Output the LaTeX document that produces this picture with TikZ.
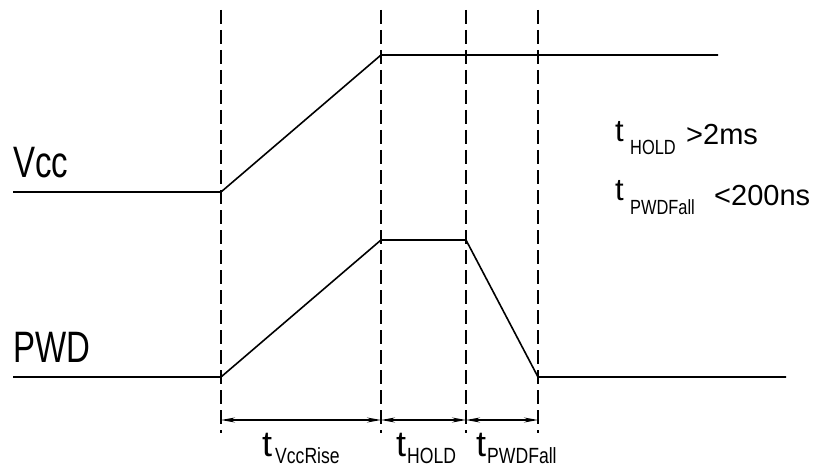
\documentclass[tikz,border=0pt]{standalone}
\usepackage{fontspec}
\setmainfont{Liberation Sans}
\newfontfamily\narrowf[FakeStretch=0.75]{Liberation Sans}
\newfontfamily\subf[FakeStretch=0.8]{Liberation Sans}
\usetikzlibrary{arrows.meta}
\tikzset{
  sig/.style={line width=1.6pt, line join=miter},
  guide/.style={line width=1.2pt, dash pattern=on 14pt off 6pt},
  dim/.style={line width=1.2pt, {Stealth[length=14pt,width=5pt]}-{Stealth[length=14pt,width=5pt]}},
  lbl/.style={inner sep=0pt, anchor=base west},
  signame/.style={lbl, font=\narrowf\fontsize{44}{44}\selectfont},
  tbig/.style={lbl, font=\fontsize{36}{36}\selectfont},
  subbig/.style={lbl, font=\subf\fontsize{22}{22}\selectfont},
  tsmall/.style={lbl, font=\fontsize{31}{31}\selectfont},
  subsmall/.style={lbl, font=\subf\fontsize{20.5}{20.5}\selectfont},
  val/.style={lbl, font=\fontsize{29}{29}\selectfont}
}
\begin{document}
\begin{tikzpicture}[x=1pt,y=-1pt]
\useasboundingbox (0,0) rectangle (819,468);
% waveform points
\coordinate (v0) at (13,192);
\coordinate (v1) at (221,192);
\coordinate (v2) at (381,55);
\coordinate (v3) at (718,55);
\coordinate (p0) at (13,377);
\coordinate (p1) at (221,377);
\coordinate (p2) at (381,240);
\coordinate (p3) at (466,240);
\coordinate (p4) at (538,377);
\coordinate (p5) at (786,377);
% guide lines
\foreach \n/\x in {1/221,2/381,3/466,4/538}{
  \coordinate (g\n t) at (\x,10);
  \coordinate (g\n b) at (\x,433);
  \coordinate (a\n) at (\x,420);
  \draw[guide] (g\n t) -- (g\n b);
}
% signals
\draw[sig] (v0) -- (v1) -- (v2) -- (v3);
\draw[sig] (p0) -- (p1) -- (p2) -- (p3) -- (p4) -- (p5);
% dimension arrows
\draw[dim] (a1) -- (a2);
\draw[dim] (a2) -- (a3);
\draw[dim] (a3) -- (a4);
% signal names
\node[signame] (vcc) at (13,177) {Vcc};
\node[signame] (pwd) at (13,362) {PWD};
% interval labels
\node[tbig] (l1t) at (262,456) {t};
\node[subbig] (l1s) at (275,463) {VccRise};
\node[tbig] (l2t) at (396,456) {t};
\node[subbig] (l2s) at (407,463) {HOLD};
\node[tbig] (l3t) at (476,456) {t};
\node[subbig] (l3s) at (487,463) {PWDFall};
% conditions
\node[tsmall] (r1t) at (615,142) {t};
\node[subsmall] (r1s) at (630,154) {HOLD};
\node[val] (r1v) at (686,145) {>2ms};
\node[tsmall] (r2t) at (615,200) {t};
\node[subsmall] (r2s) at (630,214) {PWDFall};
\node[val] (r2v) at (714,205) {<200ns};
\end{tikzpicture}
\end{document}
